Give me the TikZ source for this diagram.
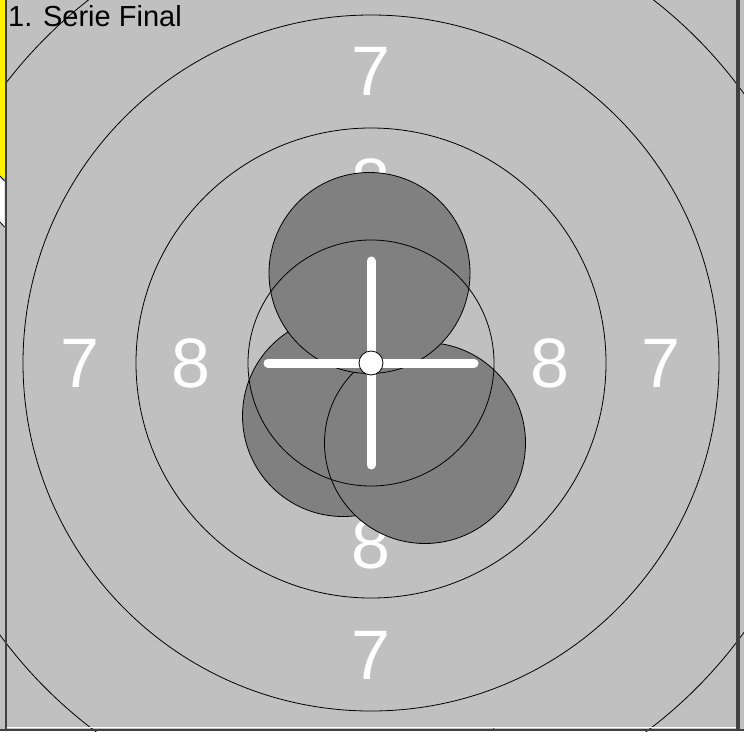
\documentclass[tikz,border=0pt]{standalone}
\usepackage{fontspec}
\setmainfont{Liberation Sans}
\definecolor{tgtgray}{HTML}{C0C0C0}
\definecolor{shotgray}{HTML}{808080}
\definecolor{framedark}{HTML}{404040}
\begin{document}
\begin{tikzpicture}[x=1pt,y=-1pt,
  ring/.style={draw=black,line width=0.8pt},
  shot/.style={circle,fill=shotgray,draw=black,line width=0.8pt,minimum size=201pt,inner sep=0pt},
  numlbl/.style={text=white,inner sep=0pt,font=\fontsize{70}{70}\selectfont},
  crossbar/.style={draw=white,line width=9pt,line cap=round},
  title/.style={text=black,inner sep=0pt,anchor=base west,font=\fontsize{29}{29}\selectfont}]
\useasboundingbox (0,0) rectangle (744,731);
\fill[tgtgray] (0,0) rectangle (744,731);
\coordinate (c) at (371,363);
% rings
\foreach \r in {235,348,460,572} \draw[ring] (c) circle[radius=\r];
% labels
\node[numlbl] (l7t) at (371,71) {7};
\node[numlbl] (l8t) at (371,183) {8};
\node[numlbl] (l7l) at (80,363) {7};
\node[numlbl] (l8l) at (191,363) {8};
\node[numlbl] (l8r) at (550,363) {8};
\node[numlbl] (l7r) at (661,363) {7};
\node[numlbl] (l8b) at (371,544) {8};
\node[numlbl] (l7b) at (371,655) {7};
% shots
\node[shot] (s1) at (343,416) {};
\node[shot] (s2) at (425,443) {};
\node[shot] (s3) at (369.5,273) {};
% inner ring
\draw[ring] (c) circle[radius=123];
% crosshair
\coordinate (hl) at (268,363);
\coordinate (hr) at (474,363);
\coordinate (vt) at (371,261);
\coordinate (vb) at (371,465);
\draw[crossbar] (hl) -- (hr);
\draw[crossbar] (vt) -- (vb);
\node[circle,fill=white,draw=black,line width=0.8pt,minimum size=24pt,inner sep=0pt] (ctr) at (c) {};
% frame
\fill[yellow] (0,0) rectangle (4.5,178);
\fill[white] (0,178) -- (4.5,181) -- (4.5,226) -- (0,222) -- cycle;
\draw[black,line width=0.8pt] (0,176) -- (4.5,181);
\draw[black,line width=0.8pt] (0,222) -- (4.5,227);
\draw[white,line width=1pt] (7,727.8) -- (736,727.8);
\fill[framedark] (0,729) rectangle (744,731);
\fill[framedark] (5,0) rectangle (7,731);
\fill[framedark] (736,0) rectangle (740,731);
\fill[framedark] (492.5,728) rectangle (493.8,731);
% title
\node[title] (ttl) at (8,26) {1. Serie Final};
\end{tikzpicture}
\end{document}
